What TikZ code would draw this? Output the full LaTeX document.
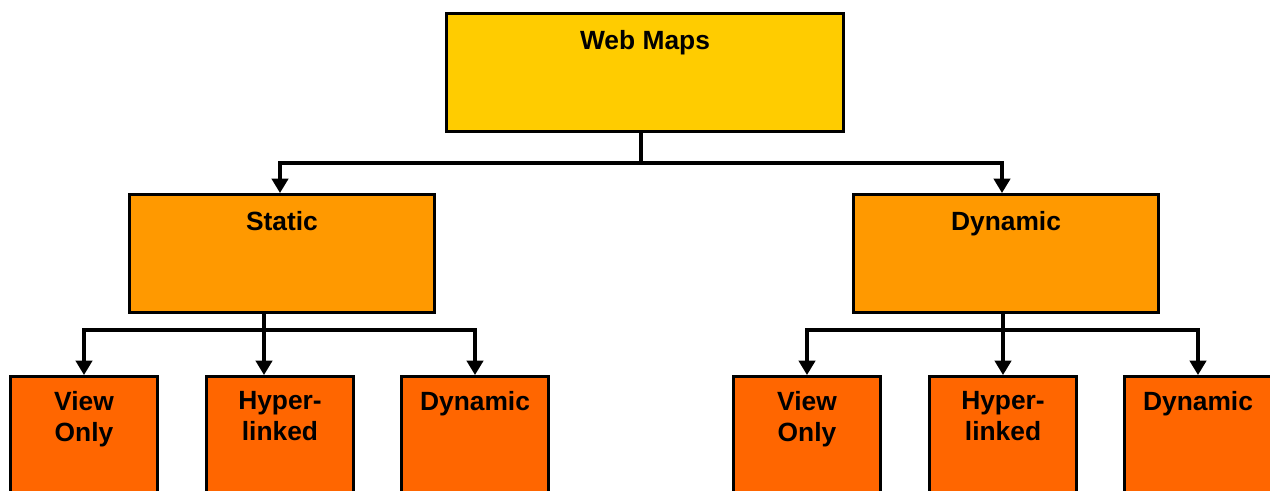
\documentclass[tikz,border=0pt]{standalone}
\usepackage{fontspec}
\setmainfont{Liberation Sans}
\usetikzlibrary{arrows.meta, positioning, calc}
\definecolor{mapyellow}{RGB}{255,204,0}
\definecolor{maporange}{RGB}{255,153,0}
\definecolor{mapred}{RGB}{255,102,0}

\begin{document}
\begin{tikzpicture}[
  box/.style={rectangle, draw=black, line width=1.7pt, inner sep=0pt},
  root/.style={box, fill=mapyellow, minimum width=7.94cm, minimum height=2.36cm},
  kind/.style={box, fill=maporange, minimum width=6.1cm, minimum height=2.36cm},
  leaf/.style={box, fill=mapred, minimum width=2.94cm, minimum height=3cm, anchor=north},
  lbl/.style={anchor=north, inner sep=0pt, align=center,
              font=\fontsize{15}{17.6}\selectfont\bfseries},
  arr/.style={-{Triangle[length=0.29cm, width=0.33cm]}, line width=1.8pt},
  link/.style={line width=1.8pt}
]
  \useasboundingbox (0,0) rectangle (25.4,9.8);
  \clip (0,0) rectangle (25.4,9.8);

  % boxes
  \node[root] (webmaps) at (12.9,8.35) {};
  \node[kind] (static)  at (5.64,4.73) {};
  \node[kind] (dynamic) at (20.12,4.73) {};

  \node[leaf] (sview)  at (1.68,2.3)  {};
  \node[leaf] (shyper) at (5.6,2.3)   {};
  \node[leaf] (sdyn)   at (9.5,2.3)   {};
  \node[leaf] (dview)  at (16.14,2.3) {};
  \node[leaf] (dhyper) at (20.06,2.3) {};
  \node[leaf] (ddyn)   at (23.96,2.3) {};

  % texts at the top of each box
  \node[lbl] (webmapstxt) at ([yshift=-0.37cm]webmaps.north) {Web Maps};
  \node[lbl] (statictxt)  at ([yshift=-0.37cm]static.north)  {Static};
  \node[lbl] (dynamictxt) at ([yshift=-0.37cm]dynamic.north) {Dynamic};
  \node[lbl] (sviewtxt)   at ([yshift=-0.33cm]sview.north)   {View\\Only};
  \node[lbl] (shypertxt)  at ([yshift=-0.33cm]shyper.north)  {Hyper-\\linked};
  \node[lbl] (sdyntxt)    at ([yshift=-0.33cm]sdyn.north)    {Dynamic};
  \node[lbl] (dviewtxt)   at ([yshift=-0.33cm]dview.north)   {View\\Only};
  \node[lbl] (dhypertxt)  at ([yshift=-0.33cm]dhyper.north)  {Hyper-\\linked};
  \node[lbl] (ddyntxt)    at ([yshift=-0.33cm]ddyn.north)    {Dynamic};

  % tree connectors
  \coordinate (webjoin) at (12.82,6.54);
  \draw[link] (webmaps.south -| webjoin) -- (webjoin);
  \draw[arr] (webjoin) -| ([xshift=-0.04cm]static.north);
  \draw[arr] (webjoin) -| ([xshift=-0.08cm]dynamic.north);

  \coordinate (staticjoin) at (5.28,3.2);
  \draw[link] (static.south -| staticjoin) -- (staticjoin);
  \draw[arr] (staticjoin) -| (sview.north);
  \draw[arr] (staticjoin) -- (staticjoin |- shyper.north);
  \draw[arr] (staticjoin) -| (sdyn.north);

  \coordinate (dynamicjoin) at (20.06,3.2);
  \draw[link] (dynamic.south -| dynamicjoin) -- (dynamicjoin);
  \draw[arr] (dynamicjoin) -| (dview.north);
  \draw[arr] (dynamicjoin) -- (dhyper.north);
  \draw[arr] (dynamicjoin) -| (ddyn.north);
\end{tikzpicture}
\end{document}
